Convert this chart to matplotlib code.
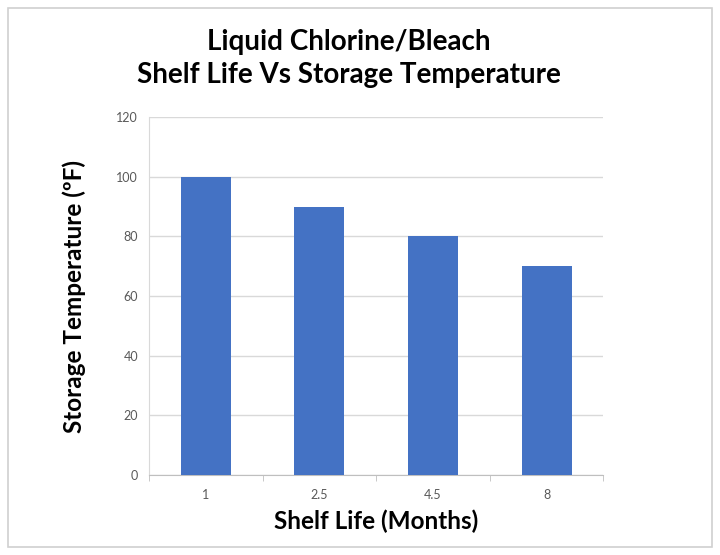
import matplotlib.pyplot as plt
from matplotlib.patches import Rectangle

# chart data
shelf_life = ['1', '2.5', '4.5', '8']
storage_temp = [100, 90, 80, 70]
y_ticks = [0, 20, 40, 60, 80, 100, 120]

plt.rcParams['font.family'] = ['Lato', 'DejaVu Sans']

fig = plt.figure(figsize=(7.2, 5.55), dpi=100)
ax = fig.add_axes([0.207, 0.144, 0.631, 0.645])

# light frame around the whole chart
fig.patches.append(Rectangle((0.011, 0.014), 0.978, 0.972, transform=fig.transFigure,
                             fill=False, edgecolor='#d0d0d0', lw=1.2))

x = range(len(shelf_life))
ax.bar(x, storage_temp, width=0.44, color='#4472c4', zorder=3)

ax.set_xlim(-0.5, len(shelf_life) - 0.5)
ax.set_ylim(0, 120)
ax.set_yticks(y_ticks)
ax.set_xticks(list(x))
ax.set_xticklabels(shelf_life)
ax.set_xticks([i - 0.5 for i in range(len(shelf_life) + 1)], minor=True)

ax.grid(axis='y', color='#d9d9d9', lw=1, zorder=0)
for s in ['top', 'right']:
    ax.spines[s].set_visible(False)
ax.spines['left'].set_color('#d9d9d9')
ax.spines['bottom'].set_color('#bfbfbf')

ax.tick_params(axis='y', length=0, labelsize=9, labelcolor='#595959', pad=8)
ax.tick_params(axis='x', which='major', length=0, labelsize=9, labelcolor='#595959', pad=10)
ax.tick_params(axis='x', which='minor', length=4, color='#bfbfbf')

ax.set_xlabel('Shelf Life (Months)', fontsize=17.5, fontweight='bold', labelpad=6)
ax.set_ylabel('Storage Temperature (ºF)', fontsize=17.5, fontweight='bold', labelpad=22)

fig.text(0.485, 0.925, 'Liquid Chlorine/Bleach', ha='center', va='center',
         fontsize=20, fontweight='bold')
fig.text(0.485, 0.865, 'Shelf Life Vs Storage Temperature', ha='center', va='center',
         fontsize=20, fontweight='bold')

fig.savefig('out.png', dpi=100)
